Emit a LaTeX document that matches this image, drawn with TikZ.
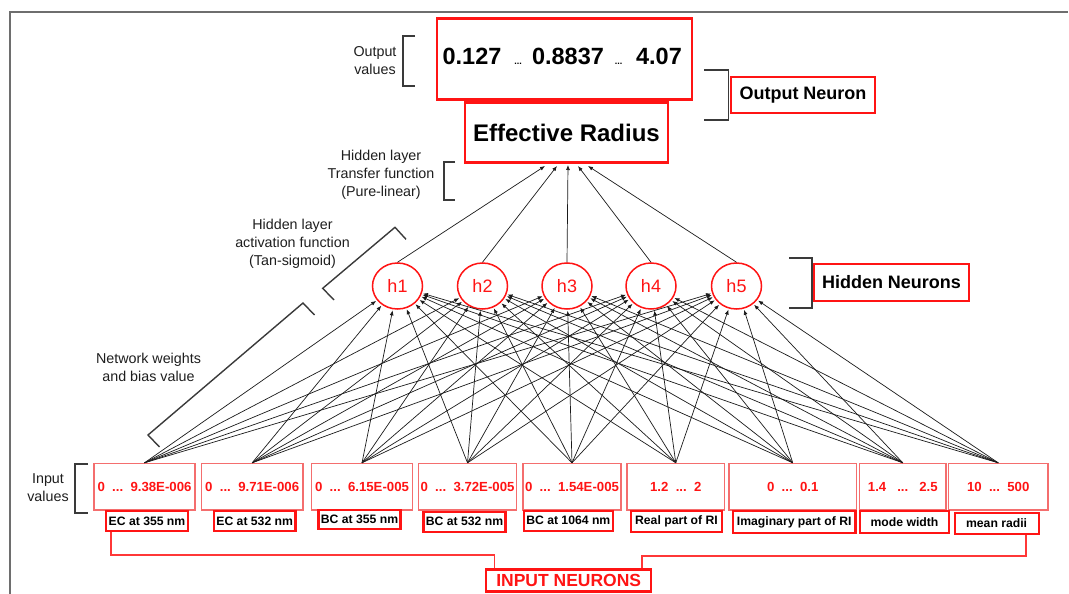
\documentclass[tikz,border=0pt]{standalone}
\usepackage{fontspec}
\setmainfont{Liberation Sans}
\usetikzlibrary{shapes.geometric,arrows.meta,calc}
\definecolor{nred}{HTML}{FF1414}
\definecolor{lred}{HTML}{F46E6E}
\definecolor{brk}{HTML}{3A3A3A}
\definecolor{framec}{HTML}{6E6E6E}
\definecolor{txt}{HTML}{1E1E1E}
\definecolor{wirec}{HTML}{1A1A1A}
\begin{document}
\begin{tikzpicture}[x=1pt,y=-1pt,
  redbox/.style={draw=nred, rectangle, inner sep=0pt},
  inbox/.style={draw=lred, line width=1.4pt, rectangle, inner sep=0pt,
    minimum height=46.5pt, text=nred, font=\fontsize{13.2}{15}\selectfont\bfseries},
  tagbox/.style={draw=nred, line width=2.2pt, rectangle, inner sep=0pt,
    text=black, font=\fontsize{12.2}{14}\selectfont\bfseries},
  neuron/.style={draw=nred, line width=1.5pt, ellipse, minimum width=50pt,
    minimum height=46pt, inner sep=0pt, text=nred, font=\fontsize{18}{20}\selectfont},
  note/.style={align=center, text=txt, font=\fontsize{14.3}{18}\selectfont},
  bigval/.style={anchor=base, font=\fontsize{23.5}{26}\selectfont\bfseries},
  dots/.style={anchor=base, font=\fontsize{9}{10}\selectfont\bfseries},
  brace/.style={draw=brk, line width=1.4pt},
  wire/.style={draw=wirec, line width=0.7pt, shorten >=1pt, -{Latex[length=5pt,width=4pt]}},
  conn/.style={draw=nred!85, line width=1.4pt},
]
\useasboundingbox (0,0) rectangle (1069,594);

% outer frame
\draw[framec, line width=2pt] (10,594) -- (10,12) -- (1068,12);

% output neuron
\node[redbox, line width=2.8pt, minimum width=255pt, minimum height=81pt] (outv) at (564.5,59) {};
\node[bigval] (v1) at (472,65) {0.127};
\node[dots]   (v2) at (518,65) {...};
\node[bigval] (v3) at (568,65) {0.8837};
\node[dots]   (v4) at (618.5,65) {...};
\node[bigval] (v5) at (659,65) {4.07};
\node[redbox, line width=2.5pt, minimum width=203pt, minimum height=60pt,
  font=\fontsize{24}{26}\selectfont\bfseries] (er) at (566.5,132.5) {Effective Radius};

\node[redbox, line width=2pt, minimum width=144pt, minimum height=36pt,
  font=\fontsize{18}{20}\selectfont\bfseries] (onl) at (803,95) {Output Neuron};
\node[redbox, line width=2pt, minimum width=155pt, minimum height=37pt,
  font=\fontsize{18}{20}\selectfont\bfseries] (hnl) at (891.5,282.5) {Hidden Neurons};

% hidden neurons
\node[neuron] (h1) at (397.5,286) {h1};
\node[neuron] (h2) at (482.5,286) {h2};
\node[neuron] (h3) at (567,286) {h3};
\node[neuron] (h4) at (651,286) {h4};
\node[neuron] (h5) at (736.5,286) {h5};

% input value boxes
\node[inbox, minimum width=101pt]   (in1) at (144.5,486.75) {0\ \ ...\ \ 9.38E-006};
\node[inbox, minimum width=101.6pt] (in2) at (252.2,486.75) {0\ \ ...\ \ 9.71E-006};
\node[inbox, minimum width=101pt]   (in3) at (362,486.75) {0\ \ ...\ \ 6.15E-005};
\node[inbox, minimum width=98pt]    (in4) at (467.5,486.75) {0\ \ ...\ \ 3.72E-005};
\node[inbox, minimum width=98pt]    (in5) at (572,486.75) {0\ \ ...\ \ 1.54E-005};
\node[inbox, minimum width=97.6pt]  (in6) at (675.8,486.75) {1.2\ \ ...\ \ 2};
\node[inbox, minimum width=127.4pt] (in7) at (792.7,486.75) {0\ \ ...\ \ 0.1};
\node[inbox, minimum width=86.5pt]  (in8) at (902.8,486.75) {1.4\ \ \ ...\ \ \ 2.5};
\node[inbox, minimum width=99.6pt]  (in9) at (998.2,486.75) {10\ \ ...\ \ 500};

% input labels
\node[tagbox, minimum width=82pt,    minimum height=20pt]   (l1) at (147,521) {EC at 355 nm};
\node[tagbox, minimum width=81.5pt,  minimum height=20pt]   (l2) at (254.7,521) {EC at 532 nm};
\node[tagbox, minimum width=82pt,    minimum height=19.3pt] (l3) at (359.5,519.7) {BC at 355 nm};
\node[tagbox, minimum width=82pt,    minimum height=20.3pt] (l4) at (464.5,521.8) {BC at 532 nm};
\node[tagbox, minimum width=88.6pt,  minimum height=20pt]   (l5) at (568.3,520.7) {BC at 1064 nm};
\node[tagbox, minimum width=91pt,    minimum height=20.7pt] (l6) at (676.5,521.3) {Real part of RI};
\node[tagbox, minimum width=122.4pt, minimum height=22.3pt] (l7) at (794.2,522.2) {Imaginary part of RI};
\node[tagbox, minimum width=89pt,    minimum height=21.7pt] (l8) at (904.5,521.8) {mode width};
\node[tagbox, minimum width=84pt,    minimum height=21.3pt] (l9) at (996.6,523.3) {mean radii};

% input neurons group label and its connectors
\node[redbox, line width=2.5pt, minimum width=165pt, minimum height=22.4pt, text=nred,
  font=\fontsize{17.5}{19}\selectfont\bfseries] (inn) at (568.7,580.5) {INPUT NEURONS};
\coordinate (ja) at (111,555);
\coordinate (jb) at (1026,556);
\draw[conn] (l1.south -| ja) -- (ja) -| ($(inn.north west)+(9.8,0)$);
\draw[conn] (l9.south -| jb) -- (jb) -| ($(inn.north east)+(-10.3,0)$);

% weights: every input to every hidden neuron
\foreach \i in {1,...,9}{
  \foreach \j in {1,...,5}{
    \draw[wire] (in\i.north) -- (h\j);
  }
}

% hidden neurons to the output neuron
\coordinate (e1) at (545,166);
\coordinate (e2) at (557,166);
\coordinate (e3) at (568,165);
\coordinate (e4) at (578,166);
\coordinate (e5) at (588,166);
\foreach \j in {1,...,5}{
  \draw[wire, shorten >=0pt] (h\j.north) -- (e\j);
}

% side notes and brackets
\node[note] (nout) at (375,61) {Output\\values};
\draw[brace] (415,36) -- (403,36) -- (403,86) -- (415,86);

\node[note] (ntr) at (381,175) {Hidden layer\\Transfer function\\(Pure-linear)};
\draw[brace] (455,162) -- (444,162) -- (444,200) -- (455,200);

\node[note] (nact) at (292.5,243.5) {Hidden layer\\activation function\\(Tan-sigmoid)};
\draw[brace] (334,300) -- (322.7,288.3) -- (395,227.3) -- (406,239.3);

\node[note] (nwb) at (148.5,367.5) {Network weights\\and bias value};
\draw[brace] (159.5,447) -- (148,435) -- (303,303) -- (314.5,315);

\node[note] (nin) at (48,487.5) {Input\\values};
\draw[brace] (88,464) -- (75,464) -- (75,513) -- (88,513);

\draw[brace] (704,70) -- (728.7,70) -- (728.7,120) -- (704,120);
\draw[brace] (789,258) -- (812,258) -- (812,308) -- (789,308);

\end{tikzpicture}
\end{document}
